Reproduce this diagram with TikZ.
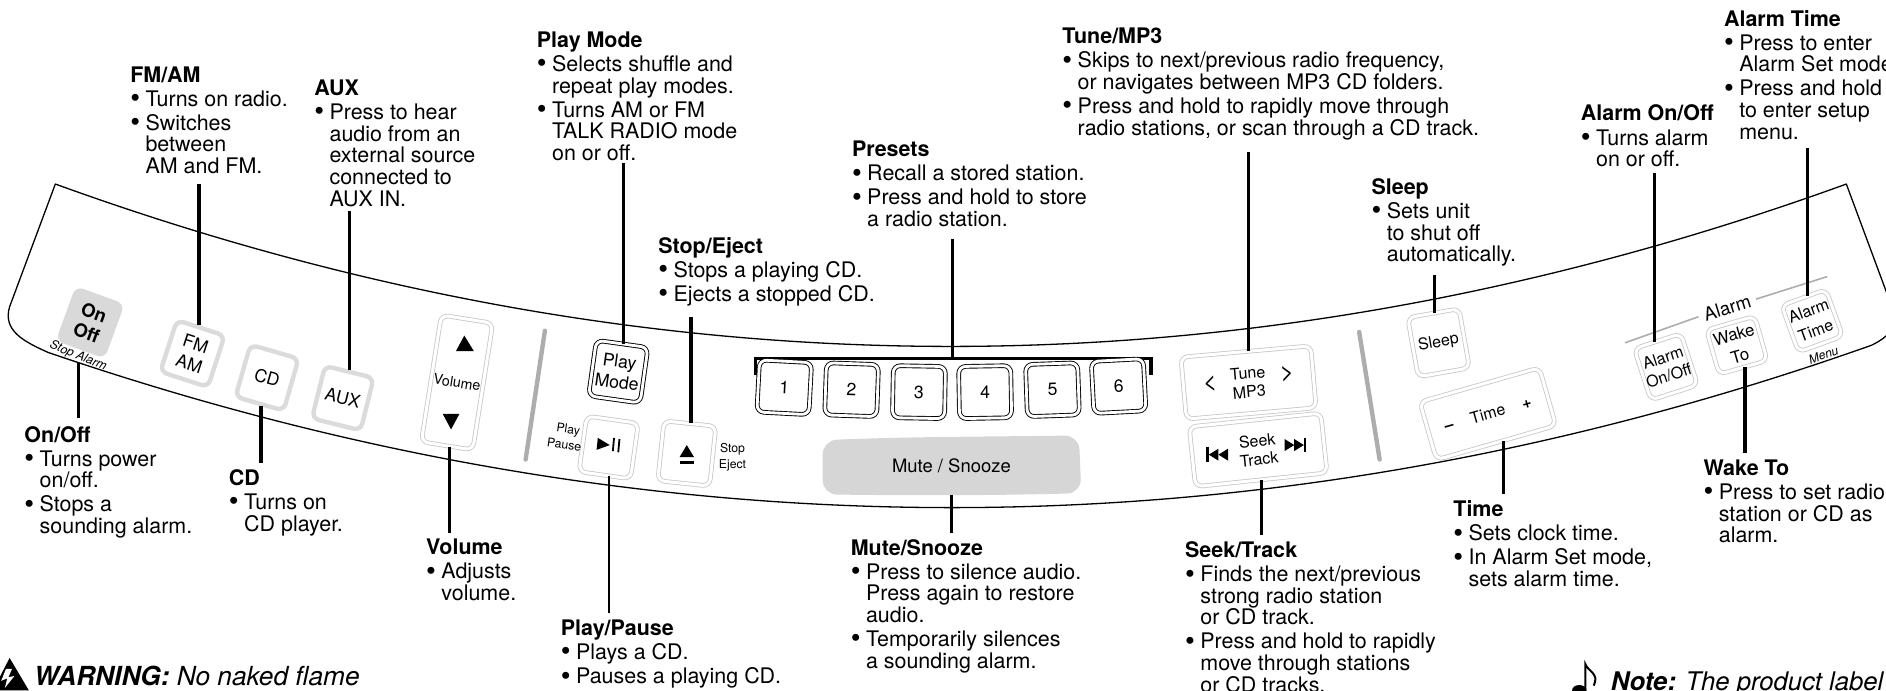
\documentclass[tikz,border=0pt]{standalone}
\usepackage{fontspec}
\setmainfont{TeX Gyre Heros}
\usepackage{tikz}

\newcommand{\hd}[1]{\textbf{#1}}
\newcommand{\bl}{\makebox[7.6pt][l]{\raisebox{-0.7pt}{\fontsize{14}{10}\selectfont\textbullet}}}
\newcommand{\ind}{\hspace*{7.6pt}}

\tikzset{
  calltext/.style={anchor=north west,inner sep=0pt,align=left,font=\fontsize{10.7}{10.8}\selectfont},
  leader/.style={line width=1.6pt},
  keybase/.style={rectangle,rounded corners=3.5pt,align=center,inner sep=0pt,font=\fontsize{8}{9.4}\selectfont},
  blackkey/.style={keybase,draw=black,line width=0.45pt,double=white,double distance=1.4pt},
  softkey/.style={keybase,draw=black!22,line width=0.4pt,double=white,double distance=1.5pt},
  framekey/.style={keybase,draw=black!14,line width=2.2pt,font=\fontsize{8.8}{10.4}\selectfont},
  smalltext/.style={inner sep=0pt,align=center,font=\fontsize{6.1}{7.8}\selectfont},
  divider/.style={line width=2.2pt,color=black!32,line cap=round},
}

\begin{document}
\begin{tikzpicture}[x=0.6pt,y=-0.6pt]

\useasboundingbox (0,0) rectangle (1568,574);
\clip (0,0) rectangle (1568,574);

% panel outline
\draw[line width=0.65pt,line join=round] (46,153) .. controls (542,333) and (1039,333) .. (1535,153)
   -- (1571,250) .. controls (1580,272) and (1570,280) .. (1556,287)
   .. controls (1051,466) and (545,466) .. (40,293)
   .. controls (20,284) and (2,275) .. (8,255) -- cycle;

% dividers
\draw[divider] (453,275) -- (437,382);
\draw[divider] (1130,276) -- (1147,382);

% keys, left part
\node[keybase,fill=black!15,minimum width=26pt,minimum height=29pt,rounded corners=4pt,rotate=-20,font=\fontsize{9.2}{10.8}\selectfont\bfseries] (onoffkey) at (75,268) {On\\Off};
\node[smalltext,rotate=-22,font=\fontsize{6.1}{7}\selectfont\itshape] (stopalarm) at (65,296) {Stop Alarm};
\node[framekey,minimum width=25pt,minimum height=27pt,rotate=-18] (fmamkey) at (160,294) {FM\\AM};
\node[framekey,minimum width=25pt,minimum height=27pt,rotate=-16] (cdkey) at (222,314) {CD};
\node[framekey,minimum width=25pt,minimum height=27pt,rotate=-14] (auxkey) at (285,331) {AUX};
\node[softkey,minimum width=26pt,minimum height=64pt,rotate=-9,font=\fontsize{7.1}{9}\selectfont] (volkey) at (380,318) {Volume};
\fill (386,279) -- (379,292) -- (394,292) -- cycle;
\fill (375,357) -- (368,344) -- (382,344) -- cycle;
\node[blackkey,minimum width=26pt,minimum height=28pt,rotate=-8,font=\fontsize{8.8}{10.4}\selectfont] (modekey) at (514,309) {Play\\Mode};
\node[softkey,minimum width=26pt,minimum height=28pt,rotate=-8] (playkey) at (506,372) {};
\fill (497,364) -- (507,370) -- (496,374) -- cycle;
\draw[line width=0.9pt] (510.5,364) -- (509.5,375) (515,365) -- (514,376);
\node[smalltext,rotate=-8] (playlbl) at (470,363) {\hspace*{2pt}Play\\Pause};
\node[softkey,minimum width=26pt,minimum height=30pt,rotate=-6] (ejectkey) at (571,377) {};
\fill (571,370) -- (565,380) -- (577,380) -- cycle;
\fill (565,383) rectangle (577,386);
\node[smalltext] (ejectlbl) at (609,380) {Stop\\Eject};

% presets
\coordinate (barleft) at (628,312);
\coordinate (barright) at (957,312);
\coordinate (presetbar) at (792,298);
\draw[leader,line width=1.7pt] (barleft) -- (barleft |- presetbar) -- (barright |- presetbar) -- (barright);
\foreach \n/\x/\y/\r in {1/652/322/-3, 2/708/324/-2, 3/764/326/-1, 4/819/326/1, 5/875/324/2, 6/930/321/3}
   \node[blackkey,minimum width=26pt,minimum height=26pt,rotate=\r,font=\fontsize{8.8}{10}\selectfont] (preset\n) at (\x,\y) {\n};

% mute
\fill[black!16,rounded corners=7pt] (684,366) .. controls (755,363) and (825,363) .. (897,362)
   -- (899,410) .. controls (825,412) and (755,412) .. (684,411) -- cycle;
\node[inner sep=0pt,minimum width=128pt,minimum height=29pt,font=\fontsize{9.2}{10}\selectfont] (mutekey) at (791,387) {Mute / Snooze};

% keys, right part
\node[softkey,minimum width=65pt,minimum height=31pt,rotate=5] (tunekey) at (1038,318) {Tune\\MP3};
\node[inner sep=0pt,rotate=5,font=\fontsize{12}{12}\selectfont] (tuneless) at (1006,319) {<};
\node[inner sep=0pt,rotate=5,font=\fontsize{12}{12}\selectfont] (tunemore) at (1070,311) {>};
\node[softkey,minimum width=66pt,minimum height=30pt,rotate=6] (seekkey) at (1046,374) {Seek\\Track};
\fill (1003,372) rectangle (1005,384);
\fill (1005,378) -- (1013,373) -- (1013,383) -- cycle;
\fill (1013,378) -- (1021,373) -- (1021,383) -- cycle;
\fill (1076,370) -- (1068,365) -- (1068,375) -- cycle;
\fill (1084,370) -- (1076,365) -- (1076,375) -- cycle;
\fill (1084,364) rectangle (1086,376);
\node[softkey,minimum width=26pt,minimum height=30pt,rotate=10] (sleepkey) at (1196,285) {Sleep};
\node[softkey,minimum width=62pt,minimum height=30pt,rotate=16] (timekey) at (1237,344) {\textbf{--}\hspace{9pt}Time\hspace{9pt}\textbf{+}};
\node[softkey,minimum width=24.5pt,minimum height=27pt,rotate=18] (alarmkey) at (1385,305) {Alarm\\On/Off};
\node[softkey,minimum width=25pt,minimum height=23pt,rotate=16,font=\fontsize{8.4}{11}\selectfont] (wakekey) at (1444,287) {Wake\\To};
\node[softkey,minimum width=23.5pt,minimum height=24.7pt,rotate=20,font=\fontsize{8}{10.4}\selectfont] (timealarmkey) at (1506.6,266.7) {Alarm\\Time};

\node[inner sep=0pt,outer sep=3pt,rotate=17,font=\fontsize{9.2}{10}\selectfont] (alarmlbl) at (1436,256) {Alarm};
\coordinate (alarmleft) at (1351,285);
\coordinate (alarmright) at (1519,230);
\draw[line width=0.8pt,color=black!32] (alarmleft) -- (alarmlbl.west);
\draw[line width=0.8pt,color=black!32] (alarmlbl.east) -- (alarmright);
\node[inner sep=0pt,rotate=20,font=\fontsize{6.1}{7}\selectfont\itshape] (menulbl) at (1516,295) {Menu};

% callouts above the panel
\node[calltext] (fmamtxt) at (108,55) {\hd{FM/AM}\\[1.2pt]\bl Turns on radio.\\[1.2pt]\bl Switches\\\ind between\\\ind AM and FM.};
\node[calltext] (auxtxt) at (261,66) {\hd{AUX}\\[1.2pt]\bl Press to hear\\\ind audio from an\\\ind external source\\\ind connected to\\\ind AUX IN.};
\node[calltext] (modetxt) at (446,26) {\hd{Play Mode}\\[1.2pt]\bl Selects shuffle and\\\ind repeat play modes.\\[1.2pt]\bl Turns AM or FM\\\ind TALK RADIO mode\\\ind on or off.};
\node[calltext] (ejecttxt) at (547,197) {\hd{Stop/Eject}\\[1.2pt]\bl Stops a playing CD.\\[1.2pt]\bl Ejects a stopped CD.};
\node[calltext] (presettxt) at (708,117) {\hd{Presets}\\[1.2pt]\bl Recall a stored station.\\[1.2pt]\bl Press and hold to store\\\ind a radio station.};
\node[calltext] (tunetxt) at (883,23) {\hd{Tune/MP3}\\[1.2pt]\bl Skips to next/previous radio frequency,\\\ind or navigates between MP3 CD folders.\\[1.2pt]\bl Press and hold to rapidly move through\\\ind radio stations, or scan through a CD track.};
\node[calltext] (sleeptxt) at (1140,148) {\hd{Sleep}\\[1.2pt]\bl Sets unit\\\ind to shut off\\\ind automatically.};
\node[calltext] (alarmtxt) at (1314,87) {\hd{Alarm On/Off}\\[1.2pt]\bl Turns alarm\\\ind on or off.};
\node[calltext] (timealarmtxt) at (1433,8) {\hd{Alarm Time}\\[1.2pt]\bl Press to enter\\\ind Alarm Set mode.\\[1.2pt]\bl Press and hold\\\ind to enter setup\\\ind menu.};

% callouts below the panel
\node[calltext] (onofftxt) at (20,354) {\hd{On/Off}\\[1.2pt]\bl Turns power\\\ind on/off.\\[1.2pt]\bl Stops a\\\ind sounding alarm.};
\node[calltext] (cdtxt) at (190,390) {\hd{CD}\\[1.2pt]\bl Turns on\\\ind CD player.};
\node[calltext] (voltxt) at (354,448) {\hd{Volume}\\[1.2pt]\bl Adjusts\\\ind volume.};
\node[calltext] (playtxt) at (466,515) {\hd{Play/Pause}\\[1.2pt]\bl Plays a CD.\\[1.2pt]\bl Pauses a playing CD.};
\node[calltext] (mutetxt) at (707,448) {\hd{Mute/Snooze}\\[1.2pt]\bl Press to silence audio.\\\ind Press again to restore\\\ind audio.\\[1.2pt]\bl Temporarily silences\\\ind a sounding alarm.};
\node[calltext] (seektxt) at (985,450) {\hd{Seek/Track}\\[1.2pt]\bl Finds the next/previous\\\ind strong radio station\\\ind or CD track.\\[1.2pt]\bl Press and hold to rapidly\\\ind move through stations\\\ind or CD tracks.};
\node[calltext] (timetxt) at (1208,416) {\hd{Time}\\[1.2pt]\bl Sets clock time.\\[1.2pt]\bl In Alarm Set mode,\\\ind sets alarm time.};
\node[calltext] (waketxt) at (1416,382) {\hd{Wake To}\\[1.2pt]\bl Press to set radio\\\ind station or CD as\\\ind alarm.};

% leader lines
\foreach \txt/\key/\ang/\gap in {fmamtxt/fmamkey/95/5pt, auxtxt/auxkey/90/2pt, modetxt/modekey/88.5/1pt,
      ejecttxt/ejectkey/88/5pt, tunetxt/tunekey/85/6pt, sleeptxt/sleepkey/87/4pt,
      alarmtxt/alarmkey/96/3pt, timealarmtxt/timealarmkey/81/4pt}
   \draw[leader,shorten >=\gap] (\key.\ang) -- (\key.\ang |- \txt.south);
\draw[leader,shorten >=6pt] (presetbar) -- (presetbar |- presettxt.south);
\draw[leader,shorten >=4pt] (stopalarm.-68) -- (stopalarm.-68 |- onofftxt.north);
\foreach \txt/\key/\ang/\gap in {cdtxt/cdkey/-86/3pt, voltxt/volkey/-88/3pt, mutetxt/mutekey/-90/3pt,
      seektxt/seekkey/-89/3pt, timetxt/timekey/-76/3pt, waketxt/wakekey/-86/3pt}
   \draw[leader,shorten >=\gap] (\key.\ang) -- (\key.\ang |- \txt.north);
\draw[line width=0.9pt,shorten >=3pt] (playkey.-82) -- (playkey.-82 |- playtxt.north);

% warning and note
\fill (-6,574) -- (8,547) -- (24,574) -- cycle;
\fill[white] (5,556) -- (1,566) -- (6,564) -- (4,572) -- (12,562) -- (7,563) -- (10,556) -- cycle;
\node[inner sep=0pt,anchor=base west,font=\fontsize{13.1}{14}\selectfont\itshape] (warningtxt) at (28,570) {\textbf{WARNING:} No naked flame};
\fill (1313,574) ellipse [x radius=6,y radius=4.5];
\draw[line width=1pt] (1318,574) -- (1318,552) .. controls (1320,558) and (1330,560) .. (1325,570);
\node[inner sep=0pt,anchor=base west,font=\fontsize{12.8}{14}\selectfont\itshape] (notetxt) at (1339,574) {\textbf{Note:} The product label};
\end{tikzpicture}
\end{document}
